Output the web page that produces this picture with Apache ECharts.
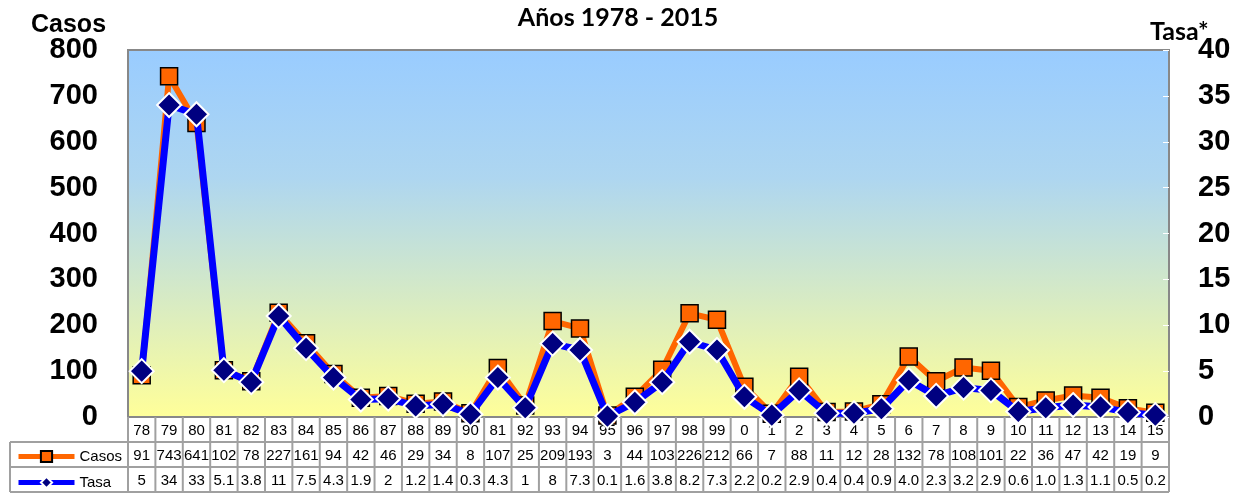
<!DOCTYPE html>
<html>
<head>
<meta charset="utf-8">
<script src="https://cdn.jsdelivr.net/npm/echarts@6/dist/echarts.min.js"></script>
<style>
  html, body { margin: 0; padding: 0; background: #fff; }
  #chart { width: 1236px; height: 493px; }
</style>
</head>
<body>
<div id="chart"></div>
<script>
// years as printed in the table (the "81" in 1991's place is in the original)
const years = ['78', '79', '80', '81', '82', '83', '84', '85', '86', '87', '88', '89', '90', '81', '92', '93', '94', '95', '96', '97', '98', '99', '0', '1', '2', '3', '4', '5', '6', '7', '8', '9', '10', '11', '12', '13', '14', '15'];
const casos = [91, 743, 641, 102, 78, 227, 161, 94, 42, 46, 29, 34, 8, 107, 25, 209, 193, 3, 44, 103, 226, 212, 66, 7, 88, 11, 12, 28, 132, 78, 108, 101, 22, 36, 47, 42, 19, 9];
const tasa = ['5', '34', '33', '5.1', '3.8', '11', '7.5', '4.3', '1.9', '2', '1.2', '1.4', '0.3', '4.3', '1', '8', '7.3', '0.1', '1.6', '3.8', '8.2', '7.3', '2.2', '0.2', '2.9', '0.4', '0.4', '0.9', '4.0', '2.3', '3.2', '2.9', '0.6', '1.0', '1.3', '1.1', '0.5', '0.2'];

const chart = echarts.init(document.getElementById('chart'));
const font = 'Liberation Sans, Arial, sans-serif';
const cell = { fontSize: 15, fontFamily: font, color: '#000', lineHeight: 25, height: 25, align: 'center' };

const options = {
  animation: false,
  title: [
    { text: 'Años 1978 - 2015', left: 'center', top: 0,
      textStyle: { fontFamily: 'Lato', fontWeight: 'bold', fontSize: 25, color: '#000' } },
    { text: 'Casos', left: 26, top: 8,
      textStyle: { fontFamily: font, fontWeight: 'bold', fontSize: 25, color: '#000' } },
    { text: 'Tasa*', left: 1145, top: 14,
      textStyle: { fontFamily: 'Lato', fontWeight: 'bold', fontSize: 25, color: '#000' } }
  ],
  legend: {
    data: ['Casos', 'Tasa'],
    orient: 'vertical',
    left: 16,
    top: 449,
    padding: 0,
    itemWidth: 56,
    itemHeight: 14,
    itemGap: 11,
    lineStyle: { width: 5 },
    textStyle: { fontSize: 15, fontFamily: font, color: '#000' }
  },
  grid: {
    left: 128,
    right: 67,
    top: 50,
    bottom: 75,
    show: true,
    backgroundColor: new echarts.graphic.LinearGradient(0, 0, 0, 1, [
      { offset: 0, color: '#99ccff' },
      { offset: 0.35, color: '#aed6f0' },
      { offset: 1, color: '#ffff99' }
    ]),
    borderColor: '#888',
    borderWidth: 2
  },
  xAxis: {
    type: 'category',
    data: years,
    axisLine: { show: false },
    axisTick: { show: false },
    axisLabel: {
      interval: 0,
      margin: 1,
      formatter: (v, i) => '{a|' + years[i] + '}\n{a|' + casos[i] + '}\n{a|' + tasa[i] + '}',
      rich: { a: cell }
    }
  },
  yAxis: [
    {
      type: 'value', min: 0, max: 800, interval: 100,
      axisLine: { show: false }, axisTick: { show: false }, splitLine: { show: false },
      axisLabel: { margin: 30, fontSize: 29, fontWeight: 'bold', fontFamily: font, color: '#000' }
    },
    {
      type: 'value', min: 0, max: 40, interval: 5, position: 'right',
      axisLine: { show: false }, splitLine: { show: false },
      axisTick: { show: true, inside: true, length: 6, lineStyle: { color: '#fff', width: 1 } },
      axisLabel: { margin: 29, fontSize: 29, fontWeight: 'bold', fontFamily: font, color: '#000' }
    }
  ],
  series: [
    {
      name: 'Casos',
      type: 'line',
      yAxisIndex: 0,
      data: casos,
      symbol: 'rect',
      symbolSize: 17,
      z: 2,
      itemStyle: { color: '#ff6600', borderColor: '#000', borderWidth: 1.5 },
      lineStyle: { color: '#ff6600', width: 6 }
    },
    {
      name: 'Tasa',
      type: 'line',
      yAxisIndex: 1,
      data: tasa.map(Number),
      symbol: 'diamond',
      symbolSize: 24,
      z: 3,
      itemStyle: { color: '#000080', borderColor: '#fff', borderWidth: 2 },
      lineStyle: { color: '#0000ff', width: 7 }
    }
  ]
};

chart.setOption(options);

// table grid lines, placed from the category axis bands
const c0 = chart.convertToPixel({ xAxisIndex: 0 }, 0);
const bw = chart.convertToPixel({ xAxisIndex: 0 }, 1) - c0;
const yTop = chart.convertToPixel({ yAxisIndex: 0 }, 0);
const rowH = 25;
const xL = 10;
const xR = c0 + (years.length - 0.5) * bw;
const stroke = { stroke: '#a0a0a0', lineWidth: 2 };
const lines = [];
for (let i = 0; i <= years.length; i++) {
  const x = c0 + (i - 0.5) * bw;
  lines.push({ type: 'line', shape: { x1: x, y1: yTop, x2: x, y2: yTop + 3 * rowH }, style: stroke });
}
lines.push({ type: 'line', shape: { x1: xL, y1: yTop + rowH, x2: xL, y2: yTop + 3 * rowH }, style: stroke });
for (let r = 1; r <= 3; r++) {
  const y = Math.min(yTop + r * rowH, 492);
  lines.push({ type: 'line', shape: { x1: xL, y1: y, x2: xR, y2: y }, style: stroke });
}
chart.setOption({ graphic: lines });
</script>
</body>
</html>
